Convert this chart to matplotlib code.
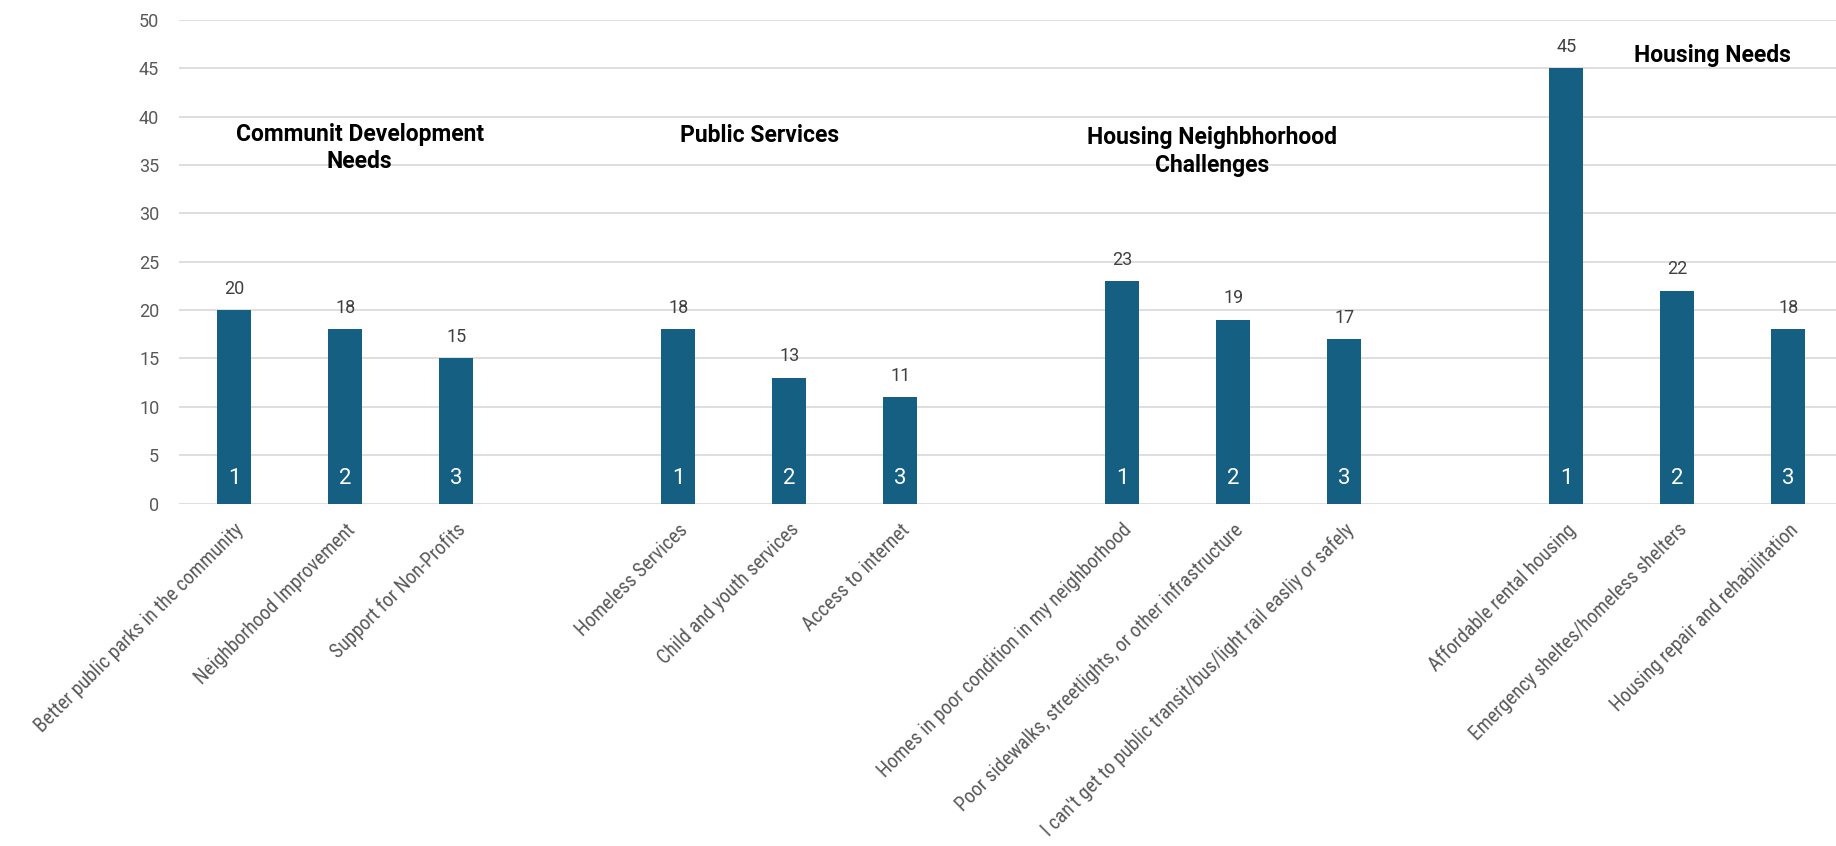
import matplotlib
matplotlib.use("Agg")
import matplotlib.pyplot as plt
from matplotlib import font_manager
from matplotlib.transforms import ScaledTranslation
import numpy as np

categories = [
    "Better public parks in the community",
    "Neighborhood Improvement",
    "Support for Non-Profits",
    "",
    "Homeless Services",
    "Child and youth services",
    "Access to internet",
    "",
    "Homes in poor condition in my neighborhood",
    "Poor sidewalks, streetlights, or other infrastructure",
    "I can't get to public transit/bus/light rail easliy or safely",
    "",
    "Affordable rental housing",
    "Emergency sheltes/homeless shelters",
    "Housing repair and rehabilitation",
]
values = [20, 18, 15, None, 18, 13, 11, None, 23, 19, 17, None, 45, 22, 18]
ranks = ["1", "2", "3", "", "1", "2", "3", "", "1", "2", "3", "", "1", "2", "3"]
group_titles = ["Communit Development\nNeeds", "Public Services",
                "Housing Neighbhorhood\nChallenges", "Housing Needs"]
group_title_x = [1.13, 4.73, 8.81, 13.32]
group_title_y = [36.75, 38.1, 36.4, 46.3]
yticks = [0, 5, 10, 15, 20, 25, 30, 35, 40, 45, 50]

plt.rcParams['font.family'] = ['Roboto', 'DejaVu Sans']

names = {f.name for f in font_manager.fontManager.ttflist}
label_family = ['Roboto']
for cand in ['Roboto Condensed', 'Liberation Sans Narrow', 'Open Sans Condensed']:
    if cand in names:
        label_family = [cand, 'Roboto']
        break

fig = plt.figure(figsize=(18.36, 8.46), dpi=100)
left = 178.7 / 1836
bottom = 1 - 503.5 / 846
top = 1 - 20 / 846
ax = fig.add_axes([left, bottom, 1 - left, top - bottom])

x = np.arange(len(categories))
bar_color = "#156082"
for xi, v, r in zip(x, values, ranks):
    if v is None:
        continue
    ax.bar(xi, v, width=0.306, color=bar_color, zorder=3)
    ax.annotate(str(v), (xi, v), xytext=(0, 9), textcoords="offset points",
                ha="center", va="bottom", fontsize=13, color="#404040")
    ax.text(xi, 2.6, r, ha="center", va="center", fontsize=16, color="white", zorder=4)

for t, tx, ty in zip(group_titles, group_title_x, group_title_y):
    ax.text(tx, ty, t, ha="center", va="center", fontsize=16.5, fontweight="bold",
            color="black", linespacing=1.25)

ax.set_xlim(-0.5, 14.43)
ax.set_ylim(0, 50)
ax.set_yticks(yticks)
ax.set_yticklabels([str(t) for t in yticks], fontsize=13, color="#595959")
ax.set_xticks(x)
ax.set_xticklabels(categories, fontsize=14, color="#595959", family=label_family)

# size the category labels like the reference (first ~312 px, longest ~435 px)
renderer = fig.canvas.get_renderer()
def text_width(s):
    p = fig.text(0, 0, s, fontsize=14, family=label_family)
    w = p.get_window_extent(renderer).width
    p.remove()
    return w
size_a = 14 * 312.0 / text_width(categories[0])
size_b = 14 * 435.0 / text_width(categories[10])
label_size = min(size_a, size_b)

shift = ScaledTranslation(-8 / 100, 0, fig.dpi_scale_trans)
for lbl in ax.get_xticklabels():
    lbl.set_fontsize(label_size)
    lbl.set_rotation(45)
    lbl.set_ha("right")
    lbl.set_va("top")
    lbl.set_rotation_mode("anchor")
    lbl.set_transform(lbl.get_transform() + shift)
ax.tick_params(axis="both", length=0)
ax.tick_params(axis="y", pad=14)
ax.tick_params(axis="x", pad=12)
ax.grid(axis="y", color="#d9d9d9", linewidth=1.2, zorder=0)
ax.set_axisbelow(True)
for s in ax.spines.values():
    s.set_visible(False)

fig.savefig("out.png", dpi=100)
